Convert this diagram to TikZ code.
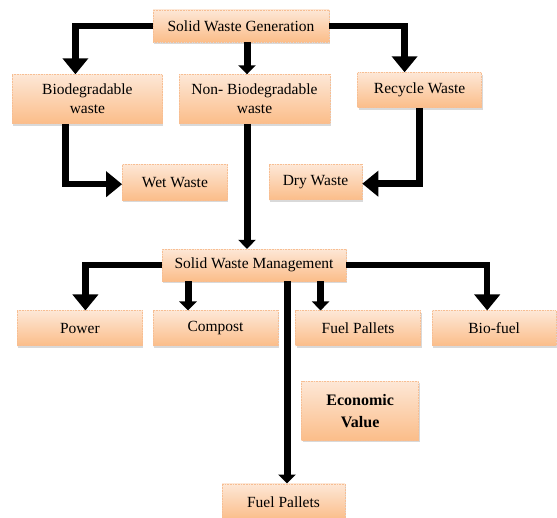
\documentclass[tikz,border=0pt]{standalone}
\usepackage{fontspec}
\setmainfont{Liberation Serif}
\usetikzlibrary{positioning,arrows.meta,shadows}
\definecolor{boxtop}{HTML}{FDE7D6}
\definecolor{boxbot}{HTML}{FBBD89}
\definecolor{boxrule}{HTML}{F7BE93}

\begin{document}
\begin{tikzpicture}[x=1pt,y=1pt,
  node distance=10pt,
  box/.style={draw=boxrule,densely dotted,line width=0.6pt,top color=boxtop,bottom color=boxbot,align=center,inner sep=2pt,font=\fontsize{15.5}{19}\selectfont,minimum height=35pt,drop shadow={shadow xshift=1pt,shadow yshift=-2pt,opacity=0.3}},
  flow/.style={line width=6.5pt,-{Triangle[width=25pt,length=16pt]}},
  drop/.style={line width=7pt,-{Triangle[width=17pt,length=9pt]}}
]
\useasboundingbox (0,0) rectangle (557,-518);

\node[box,minimum width=176pt,minimum height=32pt] (gen) at (241,-26) {Solid Waste Generation};
\node[box,below=32pt of gen,xshift=13.5pt,minimum width=151pt,minimum height=49pt] (nonbio) {Non- Biodegradable\\waste};
\node[box,left=16pt of nonbio,minimum width=150pt,minimum height=49pt] (bio) {Biodegradable\\waste};
\node[box,right=27pt of nonbio,yshift=9pt,minimum width=124pt] (recyc) {Recycle Waste};
\node[box,below=40pt of bio,xshift=87.5pt,minimum width=105pt,minimum height=36pt] (wet) {Wet Waste};
\node[box,right=41pt of wet,minimum width=93pt] (dry) {Dry Waste};
\node[box,below=125pt of nonbio,xshift=-0.5pt,minimum width=184pt,minimum height=32pt] (mgmt) {Solid Waste Management};
\node[box,below=29pt of mgmt,xshift=-38.5pt,minimum width=125pt] (compost) {Compost};
\node[box,left=10pt of compost,minimum width=125pt] (power) {Power};
\node[box,right=17pt of compost,minimum width=125pt] (pellets) {Fuel Pallets};
\node[box,right=11pt of pellets,minimum width=124pt] (biofuel) {Bio-fuel};
\node[box,below=35pt of pellets,xshift=2pt,minimum width=117pt,minimum height=59pt,font=\fontsize{16}{22}\selectfont\bfseries] (econ) {Economic\\Value};
\node[box,below=202pt of mgmt,xshift=29.5pt,minimum width=123pt,minimum height=36pt] (pellets2) {Fuel Pallets};

\draw[flow] (gen.west) -| ([xshift=-12pt]bio.north);
\draw[drop] ([xshift=-7.5pt]nonbio.north |- gen.south) -- ([xshift=-7.5pt]nonbio.north);
\draw[flow] (gen.east) -| ([xshift=-15pt]recyc.north);
\draw[flow] ([xshift=-22pt]bio.south) |- ([yshift=-2pt]wet.west);
\draw[flow] (recyc.south) |- ([yshift=-1.5pt]dry.east);
\draw[drop] ([xshift=-7.5pt]nonbio.south) -- ([xshift=-7.5pt]nonbio.south |- mgmt.north);
\draw[flow] (mgmt.west) -| ([xshift=5.5pt]power.north);
\draw[drop] ([xshift=-27.5pt]compost.north |- mgmt.south) -- ([xshift=-27.5pt]compost.north);
\draw[drop] ([xshift=3.5pt]pellets2.north |- mgmt.south) -- ([xshift=3.5pt]pellets2.north);
\draw[drop] ([xshift=-37.5pt]pellets.north |- mgmt.south) -- ([xshift=-37.5pt]pellets.north);
\draw[flow] (mgmt.east) -| ([xshift=-7pt]biofuel.north);
\end{tikzpicture}
\end{document}
